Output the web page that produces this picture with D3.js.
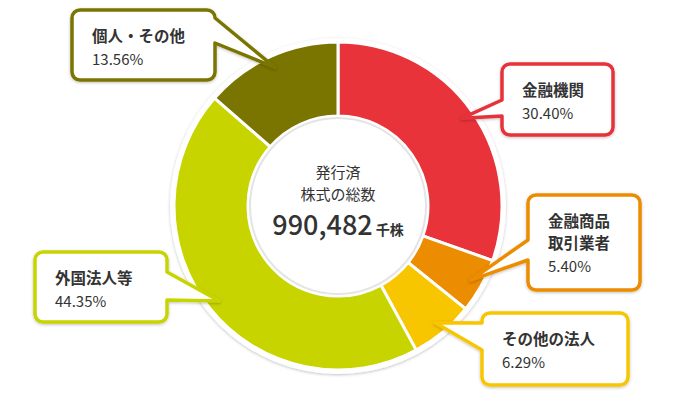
<!DOCTYPE html>
<html>
<head>
<meta charset="utf-8">
<script src="https://cdn.jsdelivr.net/npm/d3@7"></script>
<style>
  body { margin: 0; background: #fff; }
  text { font-family: "Noto Sans CJK JP", "Noto Sans", sans-serif; fill: #333; }
</style>
</head>
<body>
<div id="chart"></div>
<script>
const categories = ['金融機関', '金融商品取引業者', 'その他の法人', '外国法人等', '個人・その他'];
const values = [30.40, 5.40, 6.29, 44.35, 13.56];
const colors = ['#e8333a', '#ec8c00', '#f8c600', '#c8d400', '#7a7500'];
const labelLines = [['金融機関'], ['金融商品', '取引業者'], ['その他の法人'], ['外国法人等'], ['個人・その他']];
const totalLabel = ['発行済', '株式の総数'];
const totalValue = '990,482';
const totalUnit = '千株';

// callout boxes (layout only): x0,y0,x1,y1, side of pointer, pointer base a..b
const boxes = [
  { x0: 502, y0: 64, x1: 613, y1: 135, side: 'left', a: 100, b: 116 },
  { x0: 528, y0: 195, x1: 640, y1: 290, side: 'left', a: 240, b: 260 },
  { x0: 482, y0: 313, x1: 628, y1: 385, side: 'left', a: 323, b: 350 },
  { x0: 35, y0: 252, x1: 167, y1: 322, side: 'right', a: 272, b: 300 },
  { x0: 72, y0: 10, x1: 215, y1: 80, side: 'right', a: 18, b: 43 }
];

const width = 676, height = 420;
const cx = 338, cy = 206;

const svg = d3.select('#chart').append('svg')
  .attr('width', width)
  .attr('height', height);

const defs = svg.append('defs');
const shadow = defs.append('filter').attr('id', 'shadow')
  .attr('x', '-20%').attr('y', '-20%').attr('width', '140%').attr('height', '140%');
shadow.append('feDropShadow')
  .attr('dx', 0).attr('dy', 1).attr('stdDeviation', 1.5)
  .attr('flood-color', '#000').attr('flood-opacity', 0.25);

const g = svg.append('g').attr('transform', `translate(${cx},${cy})`);

// outer white ring
g.append('circle').attr('r', 168).attr('fill', '#fff').attr('filter', 'url(#shadow)');

const pie = d3.pie().sort(null).value(d => d)(values);
const arc = d3.arc().innerRadius(90).outerRadius(164);

g.selectAll('path.slice')
  .data(pie)
  .enter().append('path')
  .attr('class', 'slice')
  .attr('d', arc)
  .attr('fill', (d, i) => colors[i])
  .attr('stroke', '#fff')
  .attr('stroke-width', 3)
  .attr('stroke-linejoin', 'miter');

// inner circle
g.append('circle').attr('r', 88).attr('fill', '#fff')
  .attr('stroke', '#e4e4e4').attr('stroke-width', 2);

g.append('text').attr('text-anchor', 'middle').attr('y', -28)
  .attr('font-size', 15).text(totalLabel[0]);
g.append('text').attr('text-anchor', 'middle').attr('y', -6)
  .attr('font-size', 15).text(totalLabel[1]);
const tv = g.append('text').attr('text-anchor', 'middle').attr('y', 29);
tv.append('tspan').attr('font-size', 27).attr('font-weight', 500).text(totalValue);
tv.append('tspan').attr('font-size', 14).attr('font-weight', 700).attr('dx', 3).text(totalUnit);

// callouts
const tipArc = d3.arc().innerRadius(152).outerRadius(152);

function calloutPath(b, t) {
  const r = 8;
  const p = d3.path();
  p.moveTo(b.x0 + r, b.y0);
  p.lineTo(b.x1 - r, b.y0);
  p.arcTo(b.x1, b.y0, b.x1, b.y0 + r, r);
  if (b.side === 'right') {
    p.lineTo(b.x1, b.a);
    p.lineTo(t[0], t[1]);
    p.lineTo(b.x1, b.b);
  }
  p.lineTo(b.x1, b.y1 - r);
  p.arcTo(b.x1, b.y1, b.x1 - r, b.y1, r);
  p.lineTo(b.x0 + r, b.y1);
  p.arcTo(b.x0, b.y1, b.x0, b.y1 - r, r);
  if (b.side === 'left') {
    p.lineTo(b.x0, b.b);
    p.lineTo(t[0], t[1]);
    p.lineTo(b.x0, b.a);
  }
  p.lineTo(b.x0, b.y0 + r);
  p.arcTo(b.x0, b.y0, b.x0 + r, b.y0, r);
  p.closePath();
  return p.toString();
}

const callouts = svg.append('g');
pie.forEach((d, i) => {
  const b = boxes[i];
  const c = tipArc.centroid(d);
  const tip = [c[0] + cx, c[1] + cy];
  const cg = callouts.append('g');
  cg.append('path')
    .attr('d', calloutPath(b, tip))
    .attr('fill', '#fff')
    .attr('stroke', colors[i])
    .attr('stroke-width', 3.5)
    .attr('stroke-linejoin', 'round')
    .attr('filter', 'url(#shadow)');
  const lines = labelLines[i];
  const tx = b.x0 + 20;
  let y = b.y0 + 32;
  lines.forEach(l => {
    cg.append('text').attr('x', tx).attr('y', y)
      .attr('font-size', 15.5).attr('font-weight', 700).text(l);
    y += 22;
  });
  cg.append('text').attr('x', tx).attr('y', y + 1)
    .attr('font-size', 15).text(values[i].toFixed(2) + '%');
});
</script>
</body>
</html>
